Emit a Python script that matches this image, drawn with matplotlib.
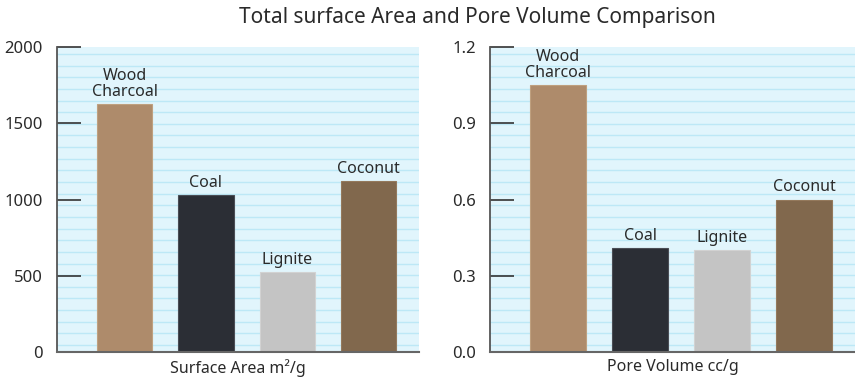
import numpy as np
import matplotlib
matplotlib.use('Agg')
import matplotlib.pyplot as plt

plt.rcParams['font.family'] = ['Noto Sans', 'DejaVu Sans']

# data
materials = ['Wood\nCharcoal', 'Coal', 'Lignite', 'Coconut']
surface_area = [1625, 1030, 525, 1120]      # m2/g
pore_volume = [1.05, 0.41, 0.40, 0.60]      # cc/g
area_ticks = [0, 500, 1000, 1500, 2000]
volume_ticks = [0.0, 0.3, 0.6, 0.9, 1.2]

colors = ['#ae8b6b', '#2b2e35', '#c4c4c4', '#81684d']
edge_colors = ['#bfa07f', '#4a4d55', '#d2d2d2', '#94795c']
text_color = '#2a2a2a'


def draw_panel(ax, values, ticks, tick_labels, xlabel):
    ax.set_facecolor('#e1f5fc')
    # notebook-style ruled lines in the background
    for k in range(27):
        yf = 1 - (7 + 11.67 * k) / 305.7
        if yf > 0:
            ax.axhline(yf * ticks[-1], color='#bde8f6', lw=1.0, zorder=0)

    x = np.arange(len(materials))
    ax.bar(x, values, width=0.68, color=colors, edgecolor=edge_colors,
           linewidth=0.8, zorder=2)
    for xi, v, name in zip(x, values, materials):
        ax.annotate(name, (xi, v), xytext=(0, 3), textcoords='offset points',
                    ha='center', va='bottom', fontsize=11.5, color=text_color,
                    linespacing=1.0)

    ax.set_xlim(-0.83, 3.62)
    ax.set_ylim(ticks[0], ticks[-1])
    ax.set_yticks(ticks)
    ax.set_yticklabels(tick_labels)
    ax.set_xticks([])
    ax.tick_params(axis='y', direction='in', length=17, width=1.2,
                   color='#333333', labelsize=12, labelcolor=text_color, pad=10)
    ax.spines['top'].set_visible(False)
    ax.spines['right'].set_visible(False)
    ax.spines['left'].set_color('#555555')
    ax.spines['left'].set_linewidth(1.3)
    ax.spines['bottom'].set_color('#666666')
    ax.spines['bottom'].set_linewidth(1.5)
    ax.set_xlabel(xlabel, fontsize=11.5, color=text_color, labelpad=5)


fig = plt.figure(figsize=(8.55, 3.85), dpi=100)
ax1 = fig.add_axes([57 / 855, 33 / 385, 362 / 855, 305 / 385])
ax2 = fig.add_axes([490 / 855, 33 / 385, 365 / 855, 305 / 385])

draw_panel(ax1, surface_area, area_ticks, [str(t) for t in area_ticks],
           'Surface Area m²/g')
draw_panel(ax2, pore_volume, volume_ticks, ['%.1f' % t for t in volume_ticks],
           'Pore Volume cc/g')

fig.text(477 / 855, 1 - 17 / 385, 'Total surface Area and Pore Volume Comparison',
         ha='center', va='center', fontsize=15, color=text_color)

fig.savefig('out.png', dpi=100)
